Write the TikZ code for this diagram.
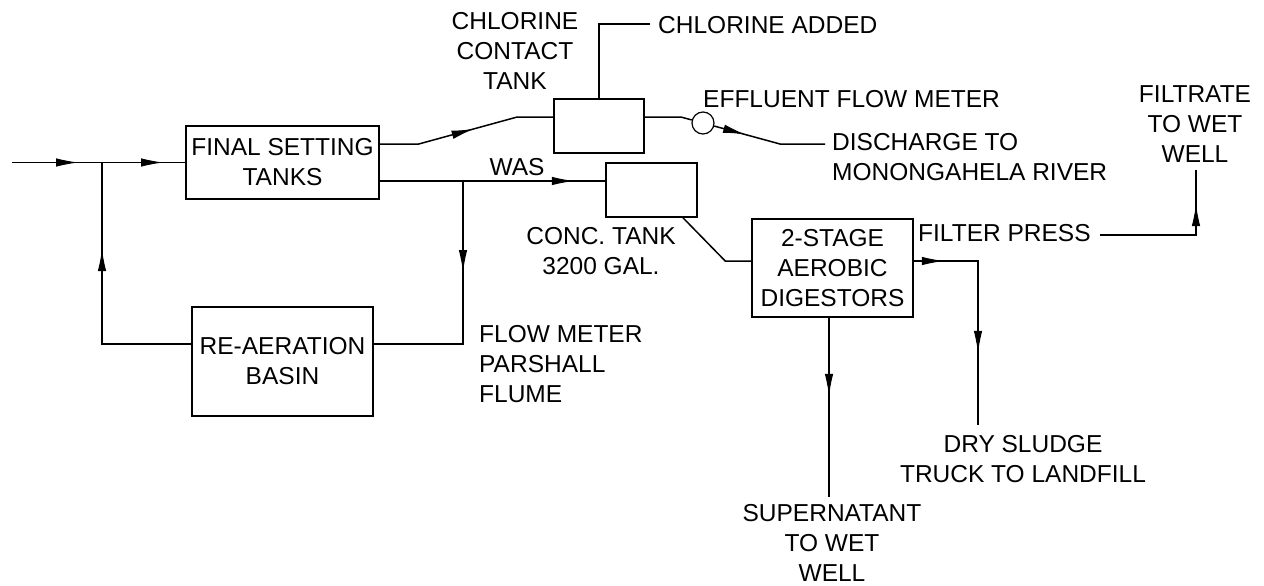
\documentclass[tikz,border=0pt]{standalone}
\usepackage{fontspec}
\setmainfont{Liberation Sans}
\usetikzlibrary{arrows.meta,decorations.markings,calc}
\newcommand{\lblfont}{\fontsize{24.5}{30}\selectfont}
\begin{document}
\begin{tikzpicture}[x=1pt,y=-1pt,
  box/.style={draw,line width=1.6pt,inner sep=0pt,align=center,font=\lblfont},
  lbl/.style={inner sep=0pt,align=center,font=\lblfont},
  lbll/.style={inner sep=0pt,align=left,anchor=west,font=\lblfont},
  flow/.style={line width=1.5pt},
  arrat/.style={postaction={decorate,decoration={markings,mark=at position #1 with {\arrow[line width=1pt]{Latex[length=22pt,width=8.5pt]}}}}}
]
\useasboundingbox (0,0) rectangle (1264,586);

% boxes
\node[box,minimum width=193pt,minimum height=73pt] (FST) at (282.5,162.5) {FINAL SETTING\\TANKS};
\node[box,minimum width=181pt,minimum height=109pt] (RA) at (282.5,361.5) {RE-AERATION\\BASIN};
\node[box,minimum width=90pt,minimum height=54pt] (CCT) at (599,126) {};
\node[box,minimum width=91pt,minimum height=54pt] (Conc) at (651.5,190) {};
\node[box,minimum width=161pt,minimum height=98pt] (Dig) at (832.5,268) {2-STAGE\\AEROBIC\\DIGESTORS};
\node[draw,circle,line width=1.2pt,minimum size=22pt,inner sep=0pt] (meter) at (703,123) {};

% labels
\node[lbl] (lCCT) at (515,51) {CHLORINE\\CONTACT\\TANK};
\node[lbll] (lChl) at (658,25) {CHLORINE ADDED};
\node[lbll] (lEff) at (703,99) {EFFLUENT FLOW METER};
\node[lbll] (lDis) at (832,157) {DISCHARGE TO\\MONONGAHELA RIVER};
\node[lbl] (lWAS) at (517,167.5) {WAS};
\node[lbl] (lConc) at (601,251) {CONC. TANK\\3200 GAL.};
\node[lbll] (lFM) at (479,364.5) {FLOW METER\\PARSHALL\\FLUME};
\node[lbll] (FP) at (918,233) {FILTER PRESS};
\node[lbl] (lFilt) at (1195,124) {FILTRATE\\TO WET\\WELL};
\node[lbl] (lDry) at (1023,459.5) {DRY SLUDGE\\TRUCK TO LANDFILL};
\node[lbl] (lSup) at (832,543) {SUPERNATANT\\TO WET\\WELL};

% free-end coordinates
\coordinate (in) at (12,162.5);
\coordinate (j1) at (102,162.5);
\coordinate (j2) at (463,181);
\coordinate (chl) at (650,24);
\coordinate (dis1) at (780,144);
\coordinate (dis2) at (825,144);
\coordinate (sludge) at (978,425);
\coordinate (sup) at (829,497);
\coordinate (filt) at (1196,170);

% connectors
\draw[flow,arrat=66pt,arrat=151pt] (in) -- (FST.west);
\draw[flow,arrat=184pt] ($(RA.west)+(0,-17.5)$) -| (j1);
\draw[flow,arrat=95.8pt] ($(FST.east)+(0,-18.5)$) -- ++(39,0) -- ($(CCT.west)+(-36,-9)$) -- ($(CCT.west)+(0,-9)$);
\draw[flow,arrat=194pt] ($(FST.east)+(0,18.5)$) -- ($(Conc.west)+(0,-9)$);
\draw[flow,arrat=91pt] (j2) |- ($(RA.east)+(0,-17.5)$);
\draw[flow] ($(CCT.east)+(0,-9)$) -- ++(36,0) -- (meter);
\draw[flow,arrat=32pt] (meter) -- (dis1) -- (dis2);
\draw[flow] (CCT.north) |- (chl);
\draw[flow] ($(Conc.south)+(31.5,0)$) -- ($(Dig.west)+(-26,-7)$) -- ($(Dig.west)+(0,-7)$);
\draw[flow,arrat=30pt,arrat=156pt] ($(Dig.east)+(0,-7)$) -| (sludge);
\draw[flow,arrat=78pt] ($(Dig.south)+(-3.5,0)$) -- (sup);
\draw[flow,arrat=127pt] ($(FP.east)+(9,2)$) -| (filt);
\end{tikzpicture}
\end{document}
